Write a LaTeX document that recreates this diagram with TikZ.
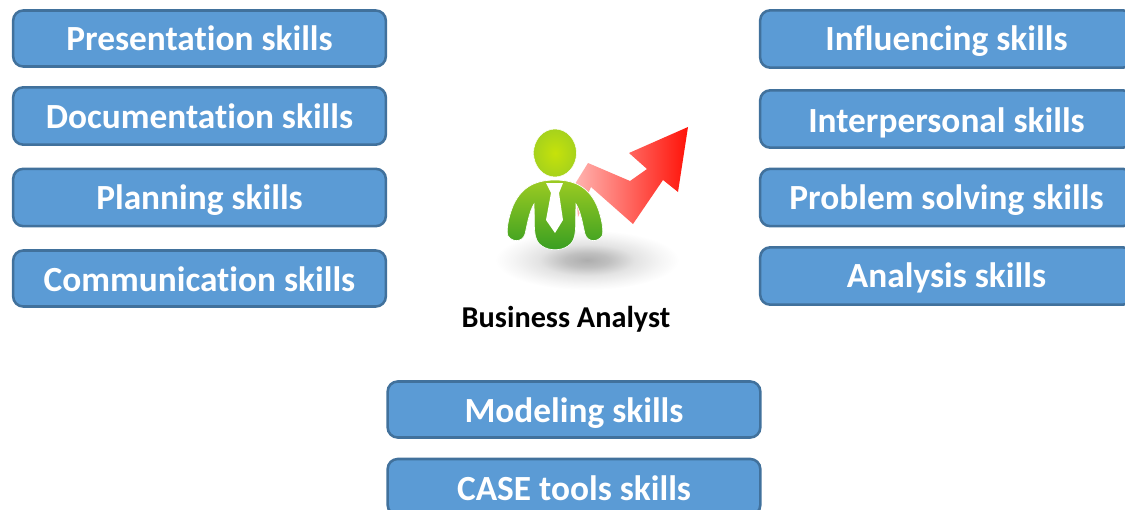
\documentclass[tikz,border=0pt]{standalone}
\usepackage{fontspec}
\setmainfont[Ligatures=NoCommon]{Carlito}
\usetikzlibrary{calc}
\definecolor{boxfill}{HTML}{5B9BD5}
\definecolor{boxline}{HTML}{41719C}
\definecolor{bodytop}{HTML}{9CCB22}
\definecolor{bodybot}{HTML}{379E22}
\definecolor{headin}{HTML}{C6E20A}
\definecolor{headout}{HTML}{A6D21C}
\definecolor{arrowl}{HTML}{FFB4B0}
\definecolor{arrowr}{HTML}{FF1208}
\pgfdeclareradialshading{floorshadow}{\pgfpoint{0bp}{0bp}}{color(0bp)=(black!32!white); color(6bp)=(black!25!white); color(13bp)=(black!11!white); color(20bp)=(black!4!white); color(25bp)=(white); color(50bp)=(white)}
\tikzset{
  skillbox/.style={draw=boxline,line width=1.9pt,fill=boxfill,rounded corners=7.5pt,text=white,
    font=\bfseries\fontsize{26.5}{28}\selectfont,minimum width=279.5pt,inner sep=0pt,align=center,anchor=center,text height=20pt,text depth=2.5pt},
  captiontext/.style={font=\bfseries\fontsize{22.7}{25}\selectfont,text=black,inner sep=0pt}
}
\begin{document}
\begin{tikzpicture}[x=0.75pt,y=-0.75pt]
\useasboundingbox (0,0) rectangle (1125,510);
\clip (0,0) rectangle (1125,510);
% left column
\node[skillbox,minimum height=42pt] (present) at (199.5,38.5) {Presentation skills};
\node[skillbox,minimum height=43pt,text height=21.5pt] (docu) at (199.5,116) {Documentation skills};
\node[skillbox,minimum height=43pt] (plan) at (199.5,197.5) {Planning skills};
\node[skillbox,minimum height=42pt,text height=21.5pt] (comm) at (199.5,278.5) {Communication skills};
% right column
\node[skillbox,minimum height=43pt] (influence) at (946.5,39) {Influencing skills};
\node[skillbox,minimum height=43pt,text height=23pt] (inter) at (946.5,119) {Interpersonal skills};
\node[skillbox,minimum height=43pt] (problem) at (946.5,197.5) {Problem solving skills};
\node[skillbox,minimum height=43pt] (analysis) at (946.5,276) {Analysis skills};
% bottom
\node[skillbox,minimum height=42pt,text height=21.5pt] (model) at (574,409.5) {Modeling skills};
\node[skillbox,minimum height=42pt,text height=23pt] (case) at (574,487) {CASE tools skills};
% shadow
\shade[shading=floorshadow] (587,260) ellipse [x radius=92,y radius=30];
% arrow
\shade[left color=arrowl,right color=arrowr]
  (578,217) -- (575,184) -- (588,163) -- (630,181) -- (647,169) -- (629,153) -- (688,127)
  -- (678,192) -- (663,180) -- (633,224) -- (591,187) -- cycle;
% person
\shade[top color=bodytop,bottom color=bodybot,draw=white,line width=0.5pt]
  (555,180) .. controls (578,180) and (590,190) .. (597,206)
  .. controls (602,218) and (604,232) .. (602,236)
  .. controls (598,242) and (588,243) .. (585,234)
  .. controls (583,226) and (581,212) .. (576,204)
  .. controls (575,225) and (578,240) .. (568,246)
  .. controls (561,251) and (549,251) .. (542,246)
  .. controls (532,240) and (535,225) .. (534,204)
  .. controls (529,212) and (527,226) .. (525,234)
  .. controls (522,243) and (512,242) .. (508,236)
  .. controls (506,232) and (508,218) .. (513,206)
  .. controls (520,190) and (532,180) .. (555,180) -- cycle;
\fill[white] (546,183) -- (563,183) -- (559,193) -- (563,220) -- (555,233) -- (546,220) -- (551,193) -- cycle;
\shade[inner color=headin,outer color=headout,draw=white,line width=0.4pt] (555,153) ellipse [x radius=21.5,y radius=24];
% caption
\node[captiontext] (ba) at (566,319) {Business Analyst};
\end{tikzpicture}
\end{document}
